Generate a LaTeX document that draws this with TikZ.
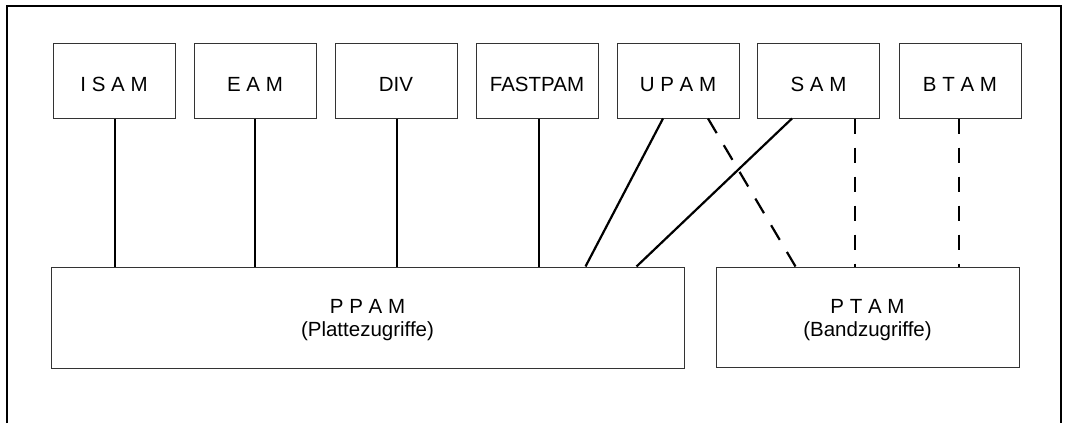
\documentclass[tikz,border=0pt]{standalone}
\usepackage{fontspec}
\setmainfont{Liberation Sans}
\usetikzlibrary{calc}
\begin{document}
\begin{tikzpicture}[x=1pt,y=1pt,
  box/.style={draw=black!80,line width=1pt,inner sep=0pt,rectangle},
  topbox/.style={box,minimum width=122pt,minimum height=75pt,
    font=\fontsize{20.5}{23}\selectfont,text height=22.6pt,text depth=0pt},
  lbl/.style={font=\fontsize{20.5}{23}\selectfont,anchor=base,inner sep=0pt},
  vline/.style={line width=2.8pt},
  dline/.style={line width=2.8pt,dash pattern=on 15pt off 14pt},
  diag/.style={line width=2.2pt},
  ddiag/.style={line width=2.2pt,dash pattern=on 17pt off 14pt},
  frame/.style={line width=1.5pt}]
\useasboundingbox (0,0) rectangle (1068,-423);
% outer frame (open at the bottom)
\coordinate (f1) at (7,-423);
\coordinate (f2) at (7,-6);
\coordinate (f3) at (1061,-6);
\coordinate (f4) at (1061,-423);
\draw[frame] (f1) -- (f2) -- (f3) -- (f4);
% top boxes
\node[topbox] (isam) at (114,-80.5) {I S A M};
\node[topbox] (eam) at (255,-80.5) {E A M};
\node[topbox] (div) at (396,-80.5) {DIV};
\node[topbox] (fast) at (537,-80.5) {FASTPAM};
\node[topbox] (upam) at (678,-80.5) {U P A M};
\node[topbox] (sam) at (818.5,-80.5) {S A M};
\node[topbox] (btam) at (960,-80.5) {B T A M};
% bottom boxes
\node[box,minimum width=633pt,minimum height=101pt] (ppam) at (367.5,-317.5) {};
\node[lbl] (ppamt) at (367.5,-313) {P P A M};
\node[lbl] (ppams) at (367.5,-336) {(Plattezugriffe)};
\node[box,minimum width=303pt,minimum height=100pt] (ptam) at (867.5,-317) {};
\node[lbl] (ptamt) at (867.5,-313) {P T A M};
\node[lbl] (ptams) at (867.5,-336) {(Bandzugriffe)};
% connector end points
\coordinate (a1) at ($(isam.south)+(1,0)$);
\coordinate (a2) at (eam.south);
\coordinate (a3) at ($(div.south)+(1,0)$);
\coordinate (a4) at ($(fast.south)+(2,0)$);
\coordinate (u1) at ($(upam.south)+(-15,0)$);
\coordinate (u2) at ($(upam.south)+(30,0)$);
\coordinate (s1) at ($(sam.south)+(-26.5,0)$);
\coordinate (s2) at ($(sam.south)+(36.5,0)$);
\coordinate (b1) at ($(btam.south)+(-1,0)$);
\coordinate (p1) at ($(ppam.north east)+(-99,0)$);
\coordinate (p2) at ($(ppam.north east)+(-48,0)$);
\coordinate (t1) at ($(ptam.north west)+(80,0)$);
% connectors
\draw[vline] (a1) -- (a1 |- ppam.north);
\draw[vline] (a2) -- (a2 |- ppam.north);
\draw[vline] (a3) -- (a3 |- ppam.north);
\draw[vline] (a4) -- (a4 |- ppam.north);
\draw[diag] (u1) -- (p1);
\draw[diag] (s1) -- (p2);
\draw[ddiag] (u2) -- (t1);
\draw[dline] (s2) -- (s2 |- ptam.north);
\draw[dline] (b1) -- (b1 |- ptam.north);
\end{tikzpicture}
\end{document}
